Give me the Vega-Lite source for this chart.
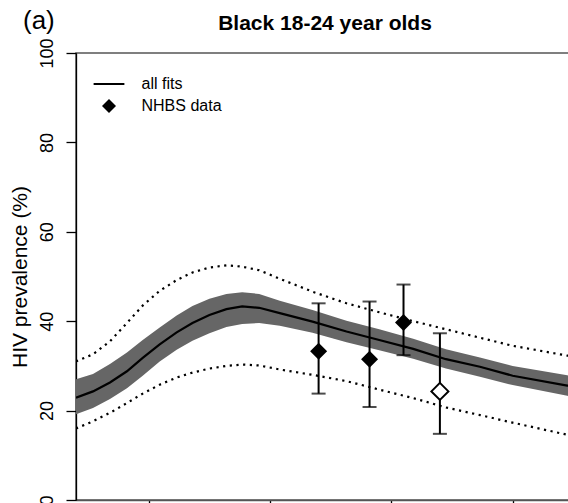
{
  "$schema": "https://vega.github.io/schema/vega-lite/v6.json",
  "autosize": {"type": "none"},
  "width": 500,
  "height": 447,
  "padding": {"left": 76, "top": 53, "right": 0, "bottom": 10},
  "background": "white",
  "title": {
    "text": "Black 18-24 year olds",
    "font": "Liberation Sans",
    "fontSize": 21,
    "fontWeight": "bold",
    "color": "black",
    "anchor": "middle",
    "dx": -1,
    "baseline": "alphabetic",
    "offset": -43.5
  },
  "config": {
    "view": {"stroke": "#555", "strokeWidth": 1.5},
    "font": "Liberation Sans",
    "axis": {
      "labelFont": "Liberation Sans",
      "titleFont": "Liberation Sans",
      "labelColor": "black",
      "titleColor": "black",
      "grid": false
    }
  },
  "datasets": {
    "fits": [
      {"year": 1984.0, "lo": 16.0, "bL": 19.2, "med": 22.9, "bH": 27.0, "hi": 31.0},
      {"year": 1985.4, "lo": 17.6, "bL": 20.6, "med": 24.3, "bH": 28.2, "hi": 32.6},
      {"year": 1986.8, "lo": 19.5, "bL": 22.6, "med": 26.3, "bH": 30.4, "hi": 35.5},
      {"year": 1988.2, "lo": 21.7, "bL": 25.0, "med": 28.8, "bH": 33.0, "hi": 39.6},
      {"year": 1989.5, "lo": 23.8, "bL": 27.8, "med": 31.8, "bH": 35.8, "hi": 43.5},
      {"year": 1990.9, "lo": 25.8, "bL": 31.0, "med": 34.8, "bH": 38.6, "hi": 46.8},
      {"year": 1992.3, "lo": 27.4, "bL": 33.6, "med": 37.5, "bH": 41.3, "hi": 49.2},
      {"year": 1993.6, "lo": 28.5, "bL": 35.6, "med": 39.6, "bH": 43.4, "hi": 50.9},
      {"year": 1995.0, "lo": 29.4, "bL": 37.3, "med": 41.4, "bH": 45.0, "hi": 52.0},
      {"year": 1996.4, "lo": 30.0, "bL": 38.7, "med": 42.7, "bH": 46.1, "hi": 52.5},
      {"year": 1997.7, "lo": 30.3, "bL": 39.4, "med": 43.3, "bH": 46.5, "hi": 52.2},
      {"year": 1999.1, "lo": 30.1, "bL": 39.6, "med": 43.0, "bH": 46.1, "hi": 51.4},
      {"year": 2000.8, "lo": 29.2, "bL": 39.0, "med": 41.8, "bH": 44.6, "hi": 49.5},
      {"year": 2003.5, "lo": 28.0, "bL": 37.4, "med": 39.9, "bH": 42.5, "hi": 46.6},
      {"year": 2006.3, "lo": 26.6, "bL": 35.3, "med": 37.7, "bH": 40.1, "hi": 44.0},
      {"year": 2009.0, "lo": 24.7, "bL": 33.5, "med": 35.8, "bH": 38.2, "hi": 42.0},
      {"year": 2011.8, "lo": 22.8, "bL": 31.6, "med": 33.8, "bH": 36.1, "hi": 40.0},
      {"year": 2014.5, "lo": 20.7, "bL": 29.4, "med": 31.5, "bH": 33.7, "hi": 38.2},
      {"year": 2017.3, "lo": 19.0, "bL": 27.6, "med": 29.8, "bH": 31.9, "hi": 36.3},
      {"year": 2020.0, "lo": 17.3, "bL": 25.7, "med": 27.8, "bH": 30.0, "hi": 34.5},
      {"year": 2024.5, "lo": 14.6, "bL": 23.3, "med": 25.6, "bH": 27.9, "hi": 32.3},
      {"year": 2025.5, "lo": 14.0, "bL": 22.9, "med": 25.2, "bH": 27.5, "hi": 31.9}
    ],
    "nhbs": [
      {"year": 2004.0, "prev": 33.3, "lower": 23.8, "upper": 44.0, "series": "NHBS data", "filled": true},
      {"year": 2008.2, "prev": 31.5, "lower": 20.8, "upper": 44.4, "series": "NHBS data", "filled": true},
      {"year": 2011.0, "prev": 39.7, "lower": 32.4, "upper": 48.2, "series": "NHBS data", "filled": true},
      {"year": 2014.0, "prev": 24.3, "lower": 14.8, "upper": 37.3, "series": "NHBS data", "filled": false}
    ]
  },
  "layer": [
    {
      "data": {"name": "fits"},
      "mark": {"type": "area", "color": "#666666", "clip": true},
      "encoding": {
        "x": {
          "field": "year", "type": "quantitative",
          "scale": {"domain": [1984, 2025.22], "nice": false, "zero": false},
          "axis": {
            "values": [1990, 2000, 2010, 2020],
            "labels": false,
            "title": "(a)",
            "titleFontSize": 26,
            "titleFontWeight": "normal",
            "titleX": -53.5,
            "titleY": -471.7,
            "titleAlign": "left",
            "titleAnchor": "start",
            "titleBaseline": "alphabetic",
            "domainColor": "#555",
            "domainWidth": 1.5,
            "tickColor": "black",
            "tickSize": 8,
            "tickWidth": 1.3
          }
        },
        "y": {
          "field": "bL", "type": "quantitative",
          "scale": {"domain": [0, 100], "nice": false},
          "axis": {
            "values": [0, 20, 40, 60, 80, 100],
            "title": "HIV prevalence (%)",
            "titleFontSize": 21,
            "titleFontWeight": "normal",
            "titleAngle": -90,
            "titleX": -50,
            "titleY": 223.5,
            "titleAlign": "center",
            "titleBaseline": "alphabetic",
            "domainColor": "black",
            "domainWidth": 1.3,
            "tickColor": "black",
            "tickSize": 10,
            "tickWidth": 1.3,
            "labelFontSize": 18,
            "labelAngle": -90,
            "labelAlign": "center",
            "labelBaseline": "alphabetic",
            "labelPadding": 13.5
          }
        },
        "y2": {"field": "bH"}
      }
    },
    {
      "data": {"name": "fits"},
      "mark": {"type": "line", "color": "black", "strokeWidth": 2.2, "clip": true},
      "encoding": {
        "x": {"field": "year", "type": "quantitative"},
        "y": {"field": "med", "type": "quantitative"}
      }
    },
    {
      "data": {"name": "fits"},
      "mark": {"type": "line", "color": "black", "strokeWidth": 2.2, "strokeDash": [2.2, 4.5], "clip": true},
      "encoding": {
        "x": {"field": "year", "type": "quantitative"},
        "y": {"field": "hi", "type": "quantitative"}
      }
    },
    {
      "data": {"name": "fits"},
      "mark": {"type": "line", "color": "black", "strokeWidth": 2.2, "strokeDash": [2.2, 4.5], "clip": true},
      "encoding": {
        "x": {"field": "year", "type": "quantitative"},
        "y": {"field": "lo", "type": "quantitative"}
      }
    },
    {
      "data": {"name": "nhbs"},
      "mark": {"type": "errorbar", "color": "black", "thickness": 2, "ticks": {"size": 14, "thickness": 2, "color": "black"}},
      "encoding": {
        "x": {"field": "year", "type": "quantitative"},
        "y": {"field": "lower", "type": "quantitative", "title": "HIV prevalence (%)"},
        "y2": {"field": "upper"}
      }
    },
    {
      "data": {"name": "nhbs"},
      "transform": [{"filter": "datum.filled"}],
      "mark": {"type": "point", "filled": true, "color": "black", "opacity": 1, "size": 289, "strokeWidth": 0},
      "encoding": {
        "x": {"field": "year", "type": "quantitative"},
        "y": {"field": "prev", "type": "quantitative"},
        "shape": {
          "field": "series", "type": "nominal",
          "scale": {
            "domain": ["all fits", "NHBS data"],
            "range": ["M-2.2,-0.14L2.2,-0.14L2.2,0.14L-2.2,0.14Z", "M0,-1L1,0L0,1L-1,0Z"]
          },
          "legend": {
            "title": null,
            "orient": "none",
            "legendX": 25,
            "legendY": 23,
            "padding": 0,
            "symbolSize": 196,
            "symbolFillColor": "black",
            "symbolStrokeColor": "black",
            "symbolStrokeWidth": 0,
            "symbolOpacity": 1,
            "labelFont": "Liberation Sans",
            "labelFontSize": 16,
            "labelColor": "black",
            "labelOffset": 24.5,
            "rowPadding": 6
          }
        }
      }
    },
    {
      "data": {"name": "nhbs"},
      "transform": [{"filter": "!datum.filled"}],
      "mark": {"type": "point", "shape": "M0,-1L1,0L0,1L-1,0Z", "filled": true, "fill": "white", "stroke": "black", "strokeWidth": 2, "opacity": 1, "size": 289},
      "encoding": {
        "x": {"field": "year", "type": "quantitative"},
        "y": {"field": "prev", "type": "quantitative"}
      }
    }
  ]
}
